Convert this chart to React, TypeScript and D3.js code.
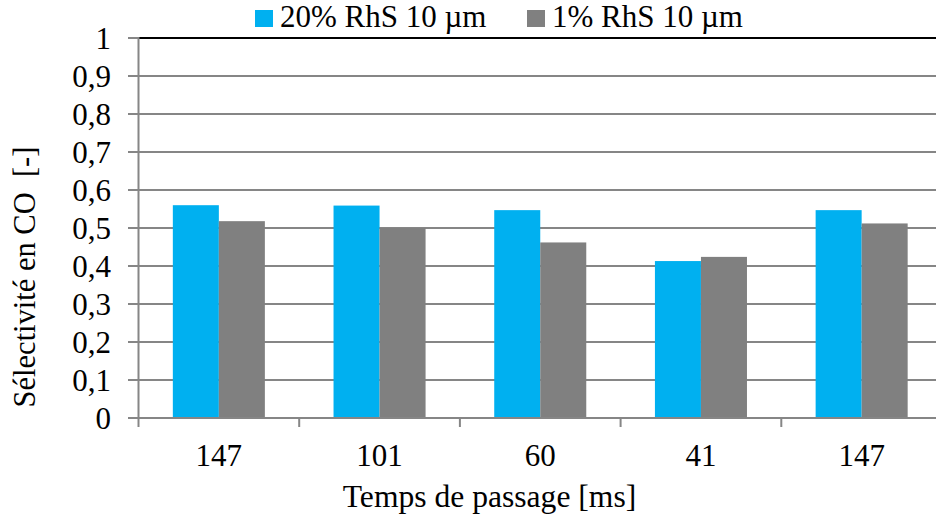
import React from "react";
import * as d3 from "d3";

const categories = ["147", "101", "60", "41", "147"];
const seriesNames = ["20% RhS 10 µm", "1% RhS 10 µm"];
const series20 = [0.56, 0.559, 0.547, 0.413, 0.547];
const series1 = [0.518, 0.5, 0.462, 0.424, 0.512];
const yTicks = [0, 0.1, 0.2, 0.3, 0.4, 0.5, 0.6, 0.7, 0.8, 0.9, 1];
const colors = ["#00B0F0", "#808080"];

const W = 936;
const H = 519;
const FONT = "Liberation Serif";

export default function App() {
  const idx = categories.map((_, i) => String(i));
  const x = d3.scaleBand<string>().domain(idx).range([138.5, 942]).padding(0);
  const sub = d3
    .scaleBand<string>()
    .domain(["a", "b"])
    .range([0, x.bandwidth()])
    .paddingInner(0)
    .paddingOuter(0.746);
  const y = d3.scaleLinear().domain([0, 1]).range([418, 38]);
  const fmt = (v: number) => (v === 0 || v === 1 ? String(v) : v.toFixed(1).replace(".", ","));
  const data = [series20, series1];
  const keys = ["a", "b"];
  const boundaries = d3.range(categories.length + 1).map((i) => 138.5 + i * x.step());
  const T = (props: any) => <text fontFamily={FONT} fill="#000" {...props} />;

  return (
    <div style={{ position: "fixed", left: 0, top: 0, width: W, height: H, background: "#fff" }}>
      <svg width={W} height={H} style={{ display: "block" }}>
        <rect x={0} y={0} width={W} height={H} fill="#fff" />
        {yTicks.slice(1, -1).map((t) => (
          <line key={"g" + t} x1={138.5} x2={942} y1={y(t)} y2={y(t)} stroke="#868686" strokeWidth={2} />
        ))}
        <line x1={138.5} x2={942} y1={y(1)} y2={y(1)} stroke="#000" strokeWidth={2} />
        {data.map((vals, s) =>
          vals.map((v, i) => (
            <rect
              key={s + "-" + i}
              x={(x(String(i)) as number) + (sub(keys[s]) as number)}
              y={y(v)}
              width={sub.bandwidth()}
              height={y(0) - y(v)}
              fill={colors[s]}
            />
          ))
        )}
        <line x1={138.5} x2={138.5} y1={y(1) - 1} y2={y(0)} stroke="#868686" strokeWidth={2} />
        {yTicks.map((t) => (
          <g key={"t" + t}>
            <line x1={128} x2={138.5} y1={y(t)} y2={y(t)} stroke="#868686" strokeWidth={2} />
            <T x={111} y={y(t) + 10.5} textAnchor="end" fontSize={31}>
              {fmt(t)}
            </T>
          </g>
        ))}
        <line x1={137.5} x2={942} y1={y(0)} y2={y(0)} stroke="#868686" strokeWidth={2} />
        {boundaries.map((bx, i) => (
          <line key={"xt" + i} x1={bx} x2={bx} y1={y(0)} y2={427} stroke="#868686" strokeWidth={2} />
        ))}
        {categories.map((c, i) => (
          <T
            key={"xl" + i}
            x={(x(String(i)) as number) + x.bandwidth() / 2}
            y={466}
            textAnchor="middle"
            fontSize={31}
          >
            {c}
          </T>
        ))}
        <T x={489.5} y={507} textAnchor="middle" fontSize={31.6}>
          Temps de passage [ms]
        </T>
        <T
          transform="translate(35,277) rotate(-90)"
          textAnchor="middle"
          fontSize={30.5}
          style={{ whiteSpace: "pre" }}
        >
          {"Sélectivité en CO  [-]"}
        </T>
        <rect x={255} y={10} width={18} height={17} fill={colors[0]} />
        <T x={280} y={27} fontSize={31}>
          {seriesNames[0]}
        </T>
        <rect x={527} y={10} width={18} height={17} fill={colors[1]} />
        <T x={552} y={27} fontSize={31}>
          {seriesNames[1]}
        </T>
      </svg>
    </div>
  );
}
